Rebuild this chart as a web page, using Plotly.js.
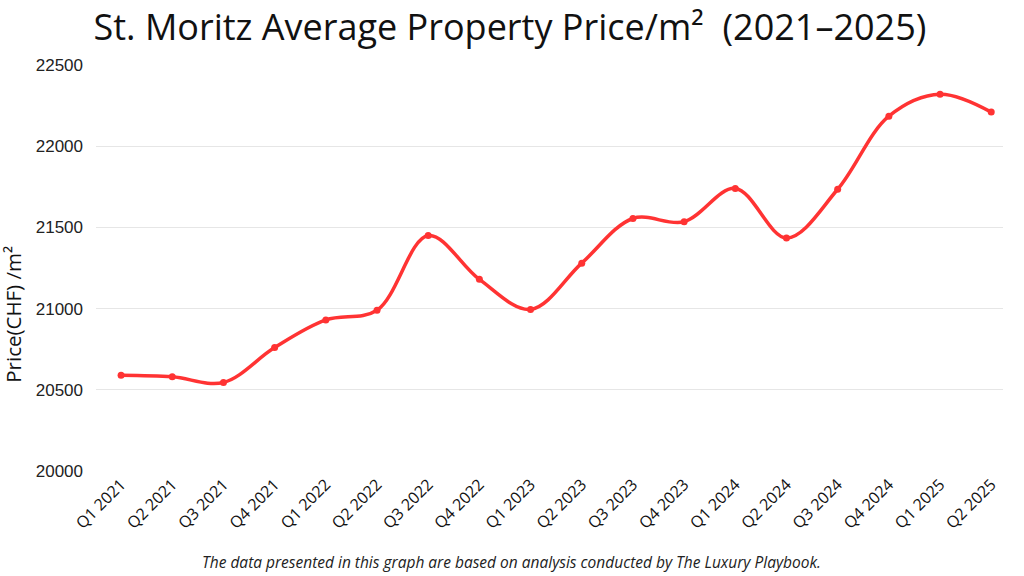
<!DOCTYPE html>
<html><head><meta charset="utf-8">
<script src="https://cdn.plot.ly/plotly-3.0.1.min.js"></script>
<style>html,body{margin:0;padding:0;background:#fff}#chart{width:1024px;height:576px}</style>
</head><body><div id="chart"></div>
<script>
const quarters = ["Q1 2021","Q2 2021","Q3 2021","Q4 2021","Q1 2022","Q2 2022","Q3 2022","Q4 2022","Q1 2023","Q2 2023","Q3 2023","Q4 2023","Q1 2024","Q2 2024","Q3 2024","Q4 2024","Q1 2025","Q2 2025"];
const prices = [20590,20580,20545,20760,20930,20990,21450,21180,20995,21280,21555,21535,21740,21435,21735,22185,22320,22210];
const yTicks = [20000,20500,21000,21500,22000,22500];

const xIdx = quarters.map((q,i)=>i);
Plotly.newPlot('chart',[{
  x: xIdx, y: prices, type:'scatter', mode:'lines+markers',
  line:{color:'#FF3333', width:3.5, shape:'spline', smoothing:1},
  marker:{color:'#FF3333', size:7},
  hoverinfo:'skip'
}],{
  width:1024, height:576,
  margin:{l:96, r:21, t:65, b:105},
  paper_bgcolor:'#fff', plot_bgcolor:'#fff',
  showlegend:false,
  title:{text:'St. Moritz Average Property Price/m²  (2021–2025)', x:0.498, xanchor:'center', y:0.952, yanchor:'middle',
    font:{family:'"Open Sans", sans-serif', size:36, color:'#111'}},
  xaxis:{range:[-0.49,17.23], tickmode:'array', tickvals:xIdx, ticktext:quarters, tickangle:-45,
    showgrid:false, zeroline:false, showline:false, ticks:'',
    tickfont:{family:'"Open Sans", sans-serif', size:16, color:'#111'}},
  yaxis:{range:[20000,22500], tickmode:'array', tickvals:yTicks, ticktext:yTicks.map(String),
    showgrid:true, gridcolor:'#e6e6e6', gridwidth:1, zeroline:false, showline:false, ticks:'',
    ticklabelstandoff:12,
    tickfont:{family:'"Liberation Sans", Arial, sans-serif', size:17, color:'#222'}},
  annotations:[
   {text:'<i>The data presented in this graph are based on analysis conducted by The Luxury Playbook.</i>',
    xref:'paper', yref:'paper', x:0.458, y:-0.224, xanchor:'center', yanchor:'middle', showarrow:false,
    font:{family:'"Open Sans", sans-serif', size:15.5, color:'#222'}},
   {text:'Price(CHF) /m²', textangle:-90, xref:'paper', yref:'paper', x:-0.091, y:0.386,
    xanchor:'center', yanchor:'middle', showarrow:false,
    font:{family:'"Open Sans", sans-serif', size:20.5, color:'#111'}}]
},{displayModeBar:false, staticPlot:true});
</script></body></html>
